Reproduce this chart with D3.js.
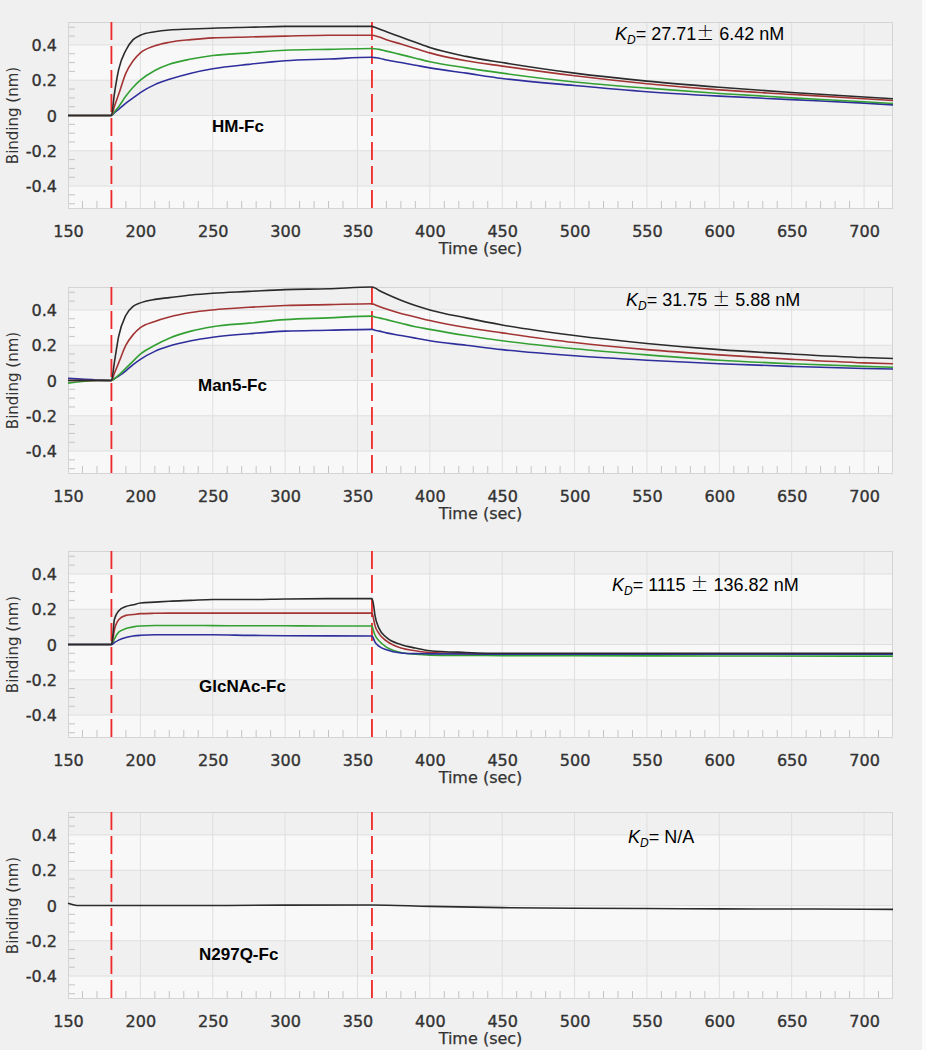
<!DOCTYPE html>
<html>
<head>
<meta charset="utf-8">
<script src="https://cdn.jsdelivr.net/npm/d3@7"></script>
<style>
  html, body { margin: 0; padding: 0; background: #f0f0f0; }
  svg { display: block; }
</style>
</head>
<body>
<svg id="chart" width="926" height="1050"></svg>
<script>
// ---------------- DATA ----------------
const xTicks = [150, 200, 250, 300, 350, 400, 450, 500, 550, 600, 650, 700];
const yTicks = [-0.4, -0.2, 0, 0.2, 0.4];
const stepMarkers = [180, 360];
const panelNames = ["HM-Fc", "Man5-Fc", "GlcNAc-Fc", "N297Q-Fc"];
const kdMeans = ["27.71", "31.75 ", "1115 ", "N/A"];
const kdErrors = [" 6.42 nM", " 5.88 nM", " 136.82 nM", null];
const xAxisTitle = "Time (sec)";
const yAxisTitle = "Binding (nm)";

// Panel 1: HM-Fc
const timeHM = [150,170,180,182,185,190,195,200,210,220,235,250,275,300,330,360,362,365,370,380,390,400,425,450,500,550,600,650,700,720];
const hmBlack = [0,0,0,0.12,0.26,0.37,0.43,0.455,0.475,0.485,0.49,0.495,0.50,0.505,0.505,0.505,0.50,0.49,0.475,0.445,0.415,0.385,0.335,0.30,0.24,0.195,0.16,0.13,0.105,0.095];
const hmRed   = [0,0,0,0.05,0.12,0.24,0.31,0.355,0.395,0.415,0.43,0.44,0.445,0.45,0.455,0.455,0.452,0.445,0.43,0.405,0.38,0.355,0.31,0.28,0.225,0.18,0.145,0.12,0.095,0.085];
const hmGreen = [0,0,0,0.02,0.05,0.11,0.16,0.20,0.255,0.29,0.32,0.34,0.355,0.37,0.375,0.38,0.378,0.375,0.365,0.345,0.325,0.305,0.27,0.24,0.19,0.155,0.125,0.10,0.078,0.068];
const hmBlue  = [0,0,0,0.015,0.035,0.07,0.10,0.13,0.175,0.205,0.24,0.265,0.29,0.31,0.32,0.33,0.328,0.325,0.315,0.30,0.285,0.27,0.24,0.21,0.17,0.135,0.11,0.09,0.07,0.06];

// Panel 2: Man5-Fc
const timeMan5 = [150,170,180,182,185,190,195,200,210,220,235,250,275,300,330,360,362,365,370,380,390,400,425,450,500,550,600,650,700,720];
const man5Black = [0,0,0,0.10,0.25,0.37,0.42,0.44,0.46,0.47,0.485,0.495,0.505,0.515,0.52,0.53,0.525,0.51,0.49,0.455,0.425,0.40,0.355,0.315,0.255,0.21,0.175,0.15,0.13,0.125];
const man5Red   = [0,0,0,0.04,0.10,0.20,0.26,0.30,0.335,0.36,0.385,0.40,0.415,0.425,0.43,0.435,0.43,0.42,0.405,0.38,0.36,0.34,0.30,0.27,0.215,0.175,0.145,0.12,0.10,0.095];
const man5Green = [-0.015,0,0,0.01,0.03,0.07,0.11,0.15,0.20,0.24,0.28,0.305,0.325,0.345,0.355,0.365,0.36,0.355,0.345,0.325,0.305,0.29,0.255,0.225,0.18,0.145,0.115,0.095,0.08,0.075];
const man5Blue  = [0.012,0.003,0,0.01,0.025,0.055,0.09,0.12,0.165,0.195,0.225,0.245,0.265,0.28,0.285,0.29,0.285,0.28,0.27,0.255,0.24,0.225,0.20,0.175,0.14,0.115,0.095,0.08,0.068,0.065];

// Panel 3: GlcNAc-Fc
const timeGlc = [150,170,180,181,182,185,190,195,200,210,220,235,250,275,300,330,360,361,362,365,370,380,390,400,425,450,500,600,700,720];
const glcBlack = [0,0,0,0.05,0.14,0.19,0.215,0.225,0.235,0.24,0.245,0.25,0.255,0.255,0.258,0.26,0.26,0.23,0.17,0.09,0.04,0.0,-0.02,-0.035,-0.045,-0.05,-0.05,-0.05,-0.05,-0.05];
const glcRed   = [0,0,0,0.03,0.08,0.14,0.165,0.17,0.175,0.177,0.178,0.178,0.178,0.178,0.178,0.178,0.178,0.15,0.11,0.06,0.02,-0.02,-0.035,-0.045,-0.052,-0.055,-0.055,-0.055,-0.055,-0.055];
const glcGreen = [0,0,0,0.01,0.03,0.07,0.09,0.10,0.105,0.108,0.108,0.108,0.107,0.106,0.106,0.105,0.105,0.08,0.055,0.02,-0.015,-0.045,-0.055,-0.06,-0.062,-0.063,-0.064,-0.065,-0.066,-0.066];
const glcBlue  = [0,0,0,0.003,0.01,0.025,0.04,0.048,0.052,0.055,0.055,0.055,0.055,0.052,0.05,0.049,0.048,0.035,0.015,-0.01,-0.03,-0.048,-0.052,-0.053,-0.054,-0.055,-0.055,-0.055,-0.055,-0.055];

// Panel 4: N297Q-Fc
const timeN297 = [150,153,156,180,250,300,360,400,450,500,550,600,650,700,720];
const n297Black = [0.013,0.006,0,0,0,0.002,0.003,-0.005,-0.012,-0.016,-0.017,-0.019,-0.02,-0.021,-0.022];

const seriesColors = { black: "#2b2b2b", red: "#a33434", green: "#33a033", blue: "#2e2e9c" };

const panels = [
  { name: panelNames[0], mean: kdMeans[0], err: kdErrors[0], time: timeHM,
    series: [["blue", hmBlue], ["green", hmGreen], ["red", hmRed], ["black", hmBlack]] },
  { name: panelNames[1], mean: kdMeans[1], err: kdErrors[1], time: timeMan5,
    series: [["blue", man5Blue], ["green", man5Green], ["red", man5Red], ["black", man5Black]] },
  { name: panelNames[2], mean: kdMeans[2], err: kdErrors[2], time: timeGlc,
    series: [["green", glcGreen], ["red", glcRed], ["blue", glcBlue], ["black", glcBlack]] },
  { name: panelNames[3], mean: kdMeans[3], err: kdErrors[3], time: timeN297,
    series: [["black", n297Black]] }
];

// ---------------- LAYOUT ----------------
const layout = {
  tops: [22, 287, 551, 812],
  plotH: 187,
  left: 68, right: 893,
  nameX: [212, 198, 199, 199],
  nameDy: [16, 10, 47, 54],
  kdX: [615, 626, 612, 628],
  kdY: [40, 306, 591, 843]
};

const svg = d3.select("#chart");
svg.append("rect").attr("width", 926).attr("height", 1050).attr("fill", "#f0f0f0");
svg.append("rect").attr("x", 922).attr("y", 0).attr("width", 4).attr("height", 1050).attr("fill", "#fbfbfb");

const x = d3.scaleLinear().domain([150, 720]).range([layout.left, layout.right]);
const labelFont = "DejaVu Sans, sans-serif";
const textFont = "Liberation Sans, Arial, sans-serif";

panels.forEach((p, i) => {
  const top = layout.tops[i];
  const bottom = top + layout.plotH;
  const y = d3.scaleLinear().domain([-0.53, 0.53]).range([bottom, top]);
  const g = svg.append("g");

  // alternating horizontal bands
  const bands = [0.53, 0.4, 0.2, 0, -0.2, -0.4, -0.53];
  for (let k = 0; k < bands.length - 1; k++) {
    g.append("rect")
      .attr("x", layout.left).attr("width", layout.right - layout.left)
      .attr("y", y(bands[k])).attr("height", y(bands[k + 1]) - y(bands[k]))
      .attr("fill", k % 2 === 0 ? "#f0f0f0" : "#f8f8f8");
  }

  // grid lines
  g.selectAll(".vg").data(xTicks.slice(1)).enter().append("line")
    .attr("x1", d => x(d)).attr("x2", d => x(d)).attr("y1", top).attr("y2", bottom)
    .attr("stroke", "#dfdfdf").attr("stroke-width", 1);
  g.selectAll(".hg").data(yTicks).enter().append("line")
    .attr("x1", layout.left).attr("x2", layout.right).attr("y1", d => y(d)).attr("y2", d => y(d))
    .attr("stroke", "#dfdfdf").attr("stroke-width", 1);

  // minor ticks
  const minorX = d3.range(160, 720, 10).filter(v => v % 50 !== 0);
  g.selectAll(".mx").data(minorX).enter().append("line")
    .attr("x1", d => x(d)).attr("x2", d => x(d)).attr("y1", bottom).attr("y2", bottom - 8)
    .attr("stroke", "#c4c4c4").attr("stroke-width", 1);
  const minorY = d3.range(-10, 11).map(v => v * 0.05).filter(v => Math.abs(Math.round(v * 100)) % 20 !== 0);
  g.selectAll(".my").data(minorY).enter().append("line")
    .attr("x1", layout.left).attr("x2", layout.left + 7).attr("y1", d => y(d)).attr("y2", d => y(d))
    .attr("stroke", "#c4c4c4").attr("stroke-width", 1);

  // border
  g.append("rect").attr("x", layout.left + 0.5).attr("y", top + 0.5)
    .attr("width", layout.right - layout.left - 1).attr("height", layout.plotH - 1)
    .attr("fill", "none").attr("stroke", "#d4d4d4").attr("stroke-width", 1);

  // red dashed step markers
  g.selectAll(".step").data(stepMarkers).enter().append("line")
    .attr("x1", d => x(d)).attr("x2", d => x(d)).attr("y1", top).attr("y2", bottom)
    .attr("stroke", "#f02828").attr("stroke-width", 1.8).attr("stroke-dasharray", "18,6");

  // curves
  const line = d3.line().x(d => x(d[0])).y(d => y(d[1])).curve(d3.curveMonotoneX);
  p.series.forEach(([col, vals]) => {
    const pts = p.time.map((t, j) => [t, vals[j]]);
    g.append("path").attr("d", line(pts)).attr("fill", "none")
      .attr("stroke", seriesColors[col]).attr("stroke-width", 1.6);
  });

  // x axis labels
  const xa = g.append("g").attr("transform", `translate(0,${bottom})`)
    .call(d3.axisBottom(x).tickValues(xTicks).tickSize(0).tickFormat(d3.format("d")));
  xa.select(".domain").remove();
  xa.selectAll("text").attr("y", 28).attr("dy", null)
    .attr("font-family", labelFont).attr("font-size", 16).attr("fill", "#333")
    .attr("stroke", "#333").attr("stroke-width", 0.35);

  // y axis labels
  const ya = g.append("g").attr("transform", `translate(${layout.left},0)`)
    .call(d3.axisLeft(y).tickValues(yTicks).tickSize(0)
      .tickFormat(d => d === 0 ? "0" : d.toFixed(1)));
  ya.select(".domain").remove();
  ya.selectAll("text").attr("x", -11).attr("dy", "0.36em")
    .attr("font-family", labelFont).attr("font-size", 16).attr("fill", "#333")
    .attr("stroke", "#333").attr("stroke-width", 0.35);

  // axis titles
  g.append("text").attr("x", (layout.left + layout.right) / 2).attr("y", bottom + 45)
    .attr("text-anchor", "middle").attr("font-family", labelFont)
    .attr("font-size", 16).attr("fill", "#333").attr("stroke", "#333").attr("stroke-width", 0.25)
    .text(xAxisTitle);
  g.append("text").attr("transform", `translate(18,${(top + bottom) / 2}) rotate(-90)`)
    .attr("text-anchor", "middle").attr("font-family", labelFont)
    .attr("font-size", 15).attr("fill", "#333").text(yAxisTitle);

  // panel name
  g.append("text").attr("x", layout.nameX[i]).attr("y", y(0) + layout.nameDy[i])
    .attr("font-family", textFont).attr("font-weight", "bold")
    .attr("font-size", 17).attr("fill", "#000").text(p.name);

  // KD annotation
  const kd = g.append("text").attr("x", layout.kdX[i]).attr("y", layout.kdY[i])
    .attr("font-family", textFont).attr("font-size", 18).attr("fill", "#000");
  kd.append("tspan").attr("font-style", "italic").text("K");
  kd.append("tspan").attr("font-style", "italic").attr("font-size", 12).attr("dy", 4).text("D");
  kd.append("tspan").attr("dy", -4).text("= " + p.mean);
  if (p.err) {
    kd.append("tspan").attr("font-family", "Noto Sans CJK SC, sans-serif").attr("font-weight", 300).text("\u00B1");
    kd.append("tspan").text(p.err);
  }
});
</script>
</body>
</html>
